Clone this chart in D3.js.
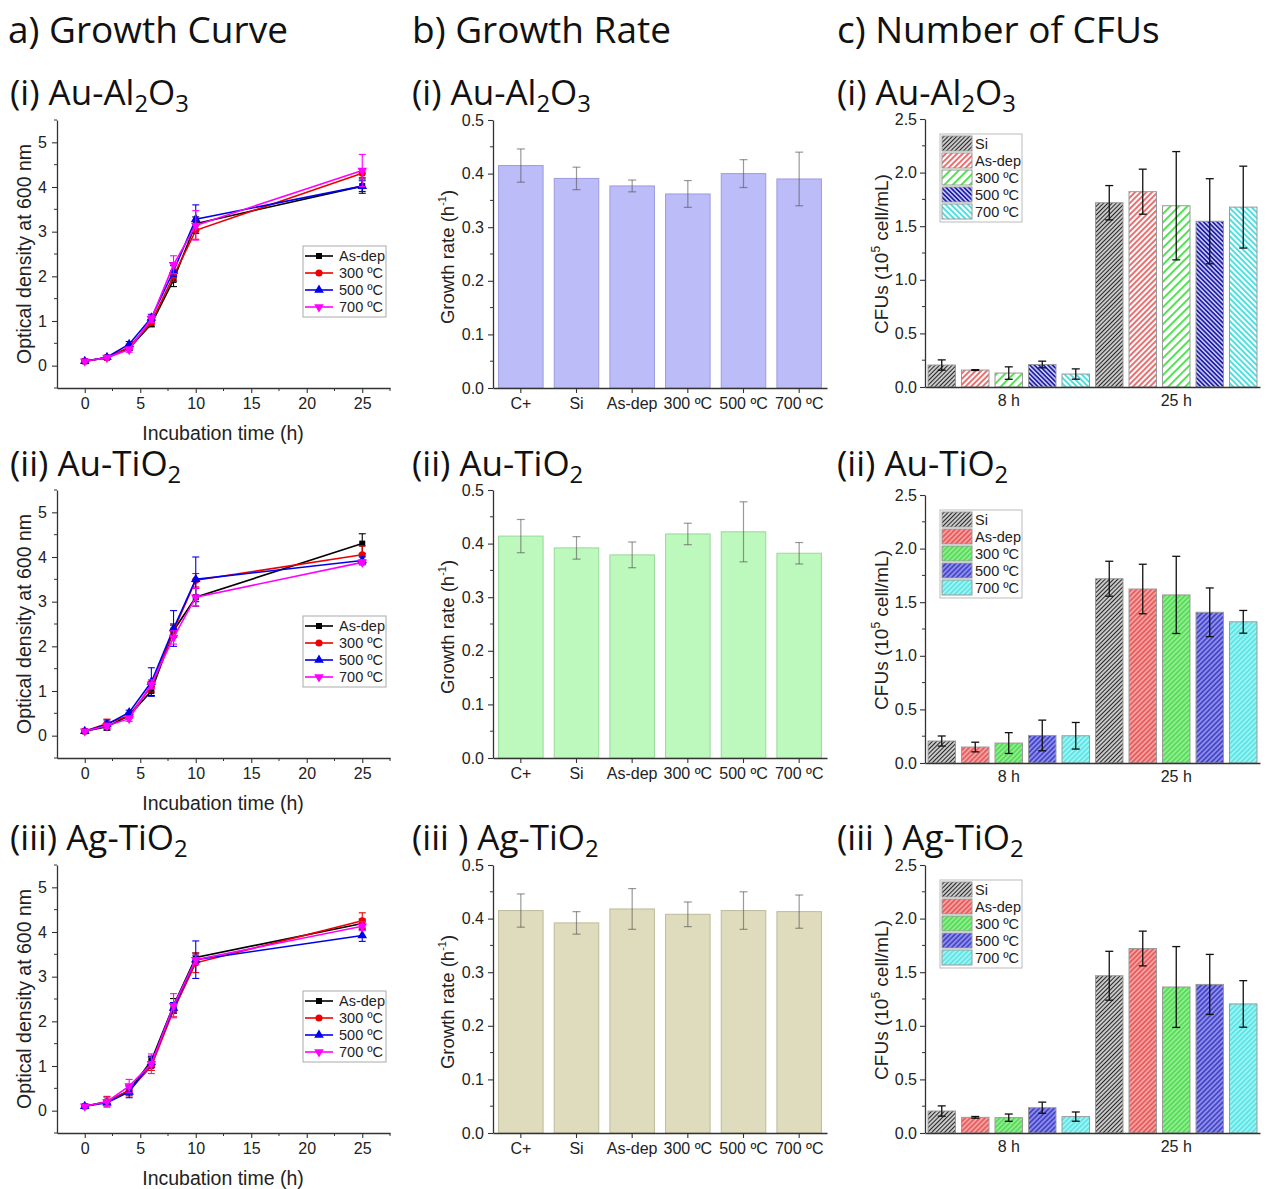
<!DOCTYPE html>
<html>
<head>
<meta charset="utf-8">
<script src="https://cdn.jsdelivr.net/npm/d3@7"></script>
<style>
  body { margin: 0; background: #fff; }
  text { font-family: "Liberation Sans", Arial, sans-serif; fill: #222; }
  .title { font-family: "Open Sans", sans-serif; fill: #111; }
</style>
</head>
<body>
<svg id="fig" width="1266" height="1189"></svg>
<script>
// ---- data ----
var times = [0, 2, 4, 6, 8, 10, 25];
var curveNames = ["As-dep", "300 ºC", "500 ºC", "700 ºC"];

// optical density, one row per series (As-dep, 300, 500, 700)
var odAuAl2O3 = [
  [0.10, 0.18, 0.39, 0.93, 1.92, 3.18, 4.02],
  [0.10, 0.18, 0.42, 0.97, 2.01, 3.03, 4.31],
  [0.10, 0.19, 0.48, 1.07, 2.12, 3.28, 4.02],
  [0.10, 0.18, 0.36, 1.05, 2.26, 3.14, 4.37]];
var odErrAuAl2O3 = [
  [0.02, 0.03, 0.05, 0.06, 0.15, 0.15, 0.16],
  [0.02, 0.03, 0.06, 0.06, 0.12, 0.20, 0.10],
  [0.02, 0.03, 0.06, 0.08, 0.12, 0.32, 0.12],
  [0.02, 0.03, 0.06, 0.08, 0.20, 0.33, 0.36]];

var odAuTiO2 = [
  [0.10, 0.20, 0.45, 1.00, 2.35, 3.10, 4.30],
  [0.10, 0.27, 0.45, 1.10, 2.35, 3.48, 4.05],
  [0.10, 0.25, 0.52, 1.20, 2.40, 3.50, 3.92],
  [0.10, 0.22, 0.38, 1.15, 2.20, 3.10, 3.88]];
var odErrAuTiO2 = [
  [0.02, 0.08, 0.05, 0.10, 0.15, 0.20, 0.22],
  [0.02, 0.10, 0.06, 0.12, 0.12, 0.15, 0.20],
  [0.02, 0.10, 0.05, 0.32, 0.40, 0.50, 0.08],
  [0.02, 0.06, 0.06, 0.10, 0.15, 0.20, 0.06]];

var odAgTiO2 = [
  [0.10, 0.20, 0.45, 1.12, 2.36, 3.43, 4.19],
  [0.10, 0.20, 0.45, 1.00, 2.25, 3.31, 4.25],
  [0.10, 0.18, 0.42, 1.08, 2.30, 3.38, 3.92],
  [0.10, 0.20, 0.55, 1.05, 2.35, 3.38, 4.13]];
var odErrAgTiO2 = [
  [0.02, 0.05, 0.10, 0.10, 0.15, 0.10, 0.10],
  [0.02, 0.12, 0.12, 0.10, 0.15, 0.22, 0.18],
  [0.02, 0.05, 0.13, 0.12, 0.12, 0.42, 0.13],
  [0.02, 0.10, 0.15, 0.22, 0.27, 0.10, 0.10]];

// growth rate (h^-1)
var rateCats = ["C+", "Si", "As-dep", "300 ºC", "500 ºC", "700 ºC"];
var rateAuAl2O3 = [0.415, 0.391, 0.377, 0.362, 0.400, 0.390];
var rateErrAuAl2O3 = [0.031, 0.021, 0.011, 0.025, 0.026, 0.050];
var rateAuTiO2 = [0.414, 0.392, 0.379, 0.418, 0.422, 0.382];
var rateErrAuTiO2 = [0.031, 0.021, 0.024, 0.020, 0.056, 0.020];
var rateAgTiO2 = [0.415, 0.392, 0.418, 0.408, 0.415, 0.413];
var rateErrAgTiO2 = [0.031, 0.021, 0.038, 0.023, 0.035, 0.031];

// CFUs (10^5 cell/mL), one row per time group
var cfuGroups = ["8 h", "25 h"];
var cfuNames = ["Si", "As-dep", "300 ºC", "500 ºC", "700 ºC"];
var cfuAuAl2O3 = [[0.205, 0.158, 0.130, 0.210, 0.121], [1.719, 1.822, 1.691, 1.546, 1.678]];
var cfuErrAuAl2O3 = [[0.048, 0.004, 0.058, 0.031, 0.048], [0.160, 0.210, 0.505, 0.397, 0.382]];
var cfuAuTiO2 = [[0.205, 0.149, 0.186, 0.257, 0.254], [1.719, 1.623, 1.568, 1.406, 1.317]];
var cfuErrAuTiO2 = [[0.047, 0.045, 0.097, 0.143, 0.124], [0.163, 0.231, 0.360, 0.227, 0.106]];
var cfuAgTiO2 = [[0.205, 0.146, 0.143, 0.236, 0.153], [1.467, 1.721, 1.362, 1.386, 1.204]];
var cfuErrAgTiO2 = [[0.048, 0.008, 0.034, 0.052, 0.043], [0.228, 0.162, 0.377, 0.280, 0.217]];

// ---- styling ----
var curveColors = ["#000000", "#ee0000", "#0000ee", "#ff00ff"];
var rateFill = ["#bcbcf8", "#bdf8bd", "#dfdcbd"];
var rateStroke = ["#9c9ce0", "#99d899", "#bdbb9c"];

var svg = d3.select("#fig");
var defs = svg.append("defs");

// hatch patterns: [background, line colour, spacing, angle, line width]
var hatchRow1 = [
  ["#ffffff", "#262626", 3, 45, 1.5],
  ["#ffffff", "#e03333", 4, 45, 1.4],
  ["#ffffff", "#33dd33", 6, 45, 1.7],
  ["#c4c4f4", "#1e1ea6", 3.2, -45, 1.6],
  ["#ffffff", "#22d8d8", 4, -45, 1.6]];
var hatchRow2 = [
  ["#ffffff", "#262626", 3, 45, 1.5],
  ["#ea5c5c", "#f8c4c4", 3.5, 45, 1.2],
  ["#55dd55", "#b0f4b0", 3.5, 45, 1.2],
  ["#4646cc", "#b0b0f2", 3.5, 45, 1.2],
  ["#5ae6e6", "#c0f8f8", 3.5, 45, 1.2]];

function makePatterns(id, spec) {
  spec.forEach(function (s, i) {
    var p = defs.append("pattern")
      .attr("id", id + i)
      .attr("patternUnits", "userSpaceOnUse")
      .attr("width", s[2]).attr("height", 10)
      .attr("patternTransform", "rotate(" + s[3] + ")");
    p.append("rect").attr("width", s[2]).attr("height", 10).attr("fill", s[0]);
    p.append("line").attr("x1", s[2] / 2).attr("x2", s[2] / 2)
      .attr("y1", 0).attr("y2", 10)
      .attr("stroke", s[1]).attr("stroke-width", s[4]);
  });
}
makePatterns("h0_", hatchRow1);
makePatterns("h1_", hatchRow2);
makePatterns("h2_", hatchRow2);

// ---- titles ----
function title(x, y, parts, size) {
  var t = svg.append("text").attr("class", "title").attr("x", x).attr("y", y)
    .style("font-size", size + "px");
  parts.forEach(function (p) {
    if (p.sub) {
      t.append("tspan").text(p.t).attr("dy", 7).style("font-size", (size * 0.68) + "px");
    } else {
      t.append("tspan").text(p.t).attr("dy", p.back ? -7 : 0);
    }
  });
}
title(8, 43, [{ t: "a) Growth Curve" }], 37);
title(412, 43, [{ t: "b) Growth Rate" }], 37);
title(837, 43, [{ t: "c) Number of CFUs" }], 37);

var rowNames = [
  [{ t: "Au-Al" }, { t: "2", sub: true }, { t: "O", back: true }, { t: "3", sub: true }],
  [{ t: "Au-TiO" }, { t: "2", sub: true }],
  [{ t: "Ag-TiO" }, { t: "2", sub: true }]];
var rowPrefix = [["(i) ", "(i) ", "(i) "], ["(ii) ", "(ii) ", "(ii) "], ["(iii) ", "(iii ) ", "(iii ) "]];
var titleBase = [105, 476, 850];
var colX = [10, 412, 837];
[0, 1, 2].forEach(function (r) {
  [0, 1, 2].forEach(function (c) {
    var parts = [{ t: rowPrefix[r][c] + rowNames[r][0].t }].concat(rowNames[r].slice(1));
    title(colX[c], titleBase[r], parts, 35);
  });
});

// ---- helpers ----
function styleAxis(g) {
  g.selectAll("path.domain").attr("stroke", "#333").attr("stroke-width", 1.3);
  g.selectAll(".tick line").attr("stroke", "#333").attr("stroke-width", 1.1);
  g.selectAll(".tick text").style("font-size", "16px")
    .style("font-family", '"Liberation Sans", Arial, sans-serif').attr("fill", "#222");
}
function minorTicks(g, scale, values, orient, len) {
  g.selectAll(null).data(values).enter().append("line")
    .attr("stroke", "#333").attr("stroke-width", 1)
    .each(function (v) {
      var s = d3.select(this);
      if (orient === "x") s.attr("x1", scale(v)).attr("x2", scale(v)).attr("y1", 0).attr("y2", len);
      else s.attr("y1", scale(v)).attr("y2", scale(v)).attr("x1", 0).attr("x2", -len);
    });
}

// ---- a) growth curves ----
function drawCurve(top, od, err) {
  var x = d3.scaleLinear().domain([-2.5, 27.5]).range([57, 390]);
  var y = d3.scaleLinear().domain([-0.5, 5.5]).range([top + 268, top]);
  var g = svg.append("g");

  var xa = g.append("g").attr("transform", "translate(0," + (top + 268) + ")")
    .call(d3.axisBottom(x).tickValues([0, 5, 10, 15, 20, 25]).tickFormat(d3.format("d"))
      .tickSize(5).tickSizeOuter(0).tickPadding(5));
  minorTicks(xa, x, [2.5, 7.5, 12.5, 17.5, 22.5, 27.5], "x", 3);
  styleAxis(xa);
  var ya = g.append("g").attr("transform", "translate(57,0)")
    .call(d3.axisLeft(y).tickValues([0, 1, 2, 3, 4, 5]).tickFormat(d3.format("d"))
      .tickSize(5).tickSizeOuter(0).tickPadding(5));
  minorTicks(ya, y, [-0.5, 0.5, 1.5, 2.5, 3.5, 4.5, 5.5], "y", 3);
  styleAxis(ya);

  g.append("text").attr("x", 223).attr("y", top + 320).attr("text-anchor", "middle")
    .style("font-size", "19.5px").text("Incubation time (h)");
  g.append("text").attr("transform", "translate(31," + (top + 134) + ") rotate(-90)")
    .attr("text-anchor", "middle").style("font-size", "19.5px").text("Optical density at 600 nm");

  var line = d3.line().x(function (d) { return x(d[0]); }).y(function (d) { return y(d[1]); });
  var sym = [d3.symbol().type(d3.symbolSquare).size(36),
    d3.symbol().type(d3.symbolCircle).size(40),
    d3.symbol().type(d3.symbolTriangle).size(40),
    d3.symbol().type(d3.symbolTriangle).size(40)];

  od.forEach(function (vals, k) {
    var pts = times.map(function (t, i) { return [t, vals[i], err[k][i]]; });
    var s = g.append("g");
    s.selectAll("line.eb").data(pts).enter().append("line")
      .attr("x1", function (d) { return x(d[0]); }).attr("x2", function (d) { return x(d[0]); })
      .attr("y1", function (d) { return y(d[1] - d[2]); }).attr("y2", function (d) { return y(d[1] + d[2]); })
      .attr("stroke", curveColors[k]).attr("stroke-width", 1.1);
    [1, -1].forEach(function (sg) {
      s.selectAll(null).data(pts).enter().append("line")
        .attr("x1", function (d) { return x(d[0]) - 3.5; }).attr("x2", function (d) { return x(d[0]) + 3.5; })
        .attr("y1", function (d) { return y(d[1] + sg * d[2]); }).attr("y2", function (d) { return y(d[1] + sg * d[2]); })
        .attr("stroke", curveColors[k]).attr("stroke-width", 1.1);
    });
    s.append("path").datum(pts).attr("d", line).attr("fill", "none")
      .attr("stroke", curveColors[k]).attr("stroke-width", 1.6);
    s.selectAll("path.m").data(pts).enter().append("path").attr("class", "m")
      .attr("d", sym[k])
      .attr("transform", function (d) {
        return "translate(" + x(d[0]) + "," + y(d[1]) + ")" + (k === 3 ? " rotate(180)" : "");
      })
      .attr("fill", curveColors[k]);
  });

  // legend
  var lg = g.append("g").attr("transform", "translate(303," + (top + 126) + ")");
  lg.append("rect").attr("width", 83).attr("height", 71).attr("fill", "#fff")
    .attr("stroke", "#aaa").attr("stroke-width", 1);
  curveNames.forEach(function (n, k) {
    var cy = 10 + k * 17;
    lg.append("line").attr("x1", 2).attr("x2", 30).attr("y1", cy).attr("y2", cy)
      .attr("stroke", curveColors[k]).attr("stroke-width", 1.6);
    lg.append("path").attr("d", sym[k])
      .attr("transform", "translate(16," + cy + ")" + (k === 3 ? " rotate(180)" : ""))
      .attr("fill", curveColors[k]);
    lg.append("text").attr("x", 36).attr("y", cy + 5).style("font-size", "14.5px").text(n);
  });
}

// ---- b) growth rate ----
function drawRate(top, vals, err, r) {
  var x = d3.scaleBand().domain(rateCats).range([493, 827]).paddingInner(0.2).paddingOuter(0.1);
  var y = d3.scaleLinear().domain([0, 0.5]).range([top + 268, top]);
  var g = svg.append("g");

  g.selectAll("rect").data(vals).enter().append("rect")
    .attr("x", function (d, i) { return x(rateCats[i]); })
    .attr("width", x.bandwidth())
    .attr("y", function (d) { return y(d); })
    .attr("height", function (d) { return y(0) - y(d); })
    .attr("fill", rateFill[r]).attr("stroke", rateStroke[r]).attr("stroke-width", 1);

  var eb = g.append("g").attr("stroke", "#555").attr("stroke-opacity", 0.6).attr("stroke-width", 1.2);
  vals.forEach(function (v, i) {
    var cx = x(rateCats[i]) + x.bandwidth() / 2;
    eb.append("line").attr("x1", cx).attr("x2", cx).attr("y1", y(v - err[i])).attr("y2", y(v + err[i]));
    [v - err[i], v + err[i]].forEach(function (e) {
      eb.append("line").attr("x1", cx - 4).attr("x2", cx + 4).attr("y1", y(e)).attr("y2", y(e));
    });
  });

  var xa = g.append("g").attr("transform", "translate(0," + (top + 268) + ")")
    .call(d3.axisBottom(x).tickSize(5).tickSizeOuter(0).tickPadding(5));
  styleAxis(xa);
  var ya = g.append("g").attr("transform", "translate(493,0)")
    .call(d3.axisLeft(y).tickValues([0, 0.1, 0.2, 0.3, 0.4, 0.5]).tickFormat(d3.format(".1f"))
      .tickSize(5).tickSizeOuter(0).tickPadding(4));
  minorTicks(ya, y, [0.05, 0.15, 0.25, 0.35, 0.45], "y", 3);
  styleAxis(ya);

  var lab = g.append("text").attr("transform", "translate(454," + (top + 137) + ") rotate(-90)")
    .attr("text-anchor", "middle").style("font-size", "18.5px");
  lab.append("tspan").text("Growth rate (h");
  lab.append("tspan").text("-1").attr("dy", -8).style("font-size", "11px");
  lab.append("tspan").text(")").attr("dy", 8);
}

// ---- c) CFUs ----
function drawCfu(top, vals, err, r) {
  var x0 = d3.scaleBand().domain(cfuGroups).range([925, 1260]);
  var x1 = d3.scaleBand().domain(cfuNames).range([0, x0.bandwidth()]).paddingInner(0.18).paddingOuter(0.09);
  var y = d3.scaleLinear().domain([0, 2.5]).range([top + 268, top]);
  var g = svg.append("g");

  cfuGroups.forEach(function (grp, gi) {
    var gg = g.append("g").attr("transform", "translate(" + x0(grp) + ",0)");
    gg.selectAll("rect").data(vals[gi]).enter().append("rect")
      .attr("x", function (d, i) { return x1(cfuNames[i]); })
      .attr("width", x1.bandwidth())
      .attr("y", function (d) { return y(d); })
      .attr("height", function (d) { return y(0) - y(d); })
      .attr("fill", function (d, i) { return "url(#h" + r + "_" + i + ")"; })
      .attr("stroke", "#9a9a9a").attr("stroke-width", 1);
    var eb = gg.append("g").attr("stroke", "#111").attr("stroke-width", 1.3);
    vals[gi].forEach(function (v, i) {
      var cx = x1(cfuNames[i]) + x1.bandwidth() / 2;
      var e = err[gi][i];
      eb.append("line").attr("x1", cx).attr("x2", cx).attr("y1", y(v - e)).attr("y2", y(v + e));
      [v - e, v + e].forEach(function (q) {
        eb.append("line").attr("x1", cx - 4).attr("x2", cx + 4).attr("y1", y(q)).attr("y2", y(q));
      });
    });
  });

  var xa = g.append("g").attr("transform", "translate(0," + (top + 268) + ")")
    .call(d3.axisBottom(x0).tickSize(0).tickSizeOuter(0).tickPadding(8));
  styleAxis(xa);
  var ya = g.append("g").attr("transform", "translate(925,0)")
    .call(d3.axisLeft(y).tickValues([0, 0.5, 1, 1.5, 2, 2.5]).tickFormat(d3.format(".1f"))
      .tickSize(5).tickSizeOuter(0).tickPadding(3));
  minorTicks(ya, y, [0.25, 0.75, 1.25, 1.75, 2.25], "y", 3);
  styleAxis(ya);

  var lab = g.append("text").attr("transform", "translate(888," + (top + 135) + ") rotate(-90)")
    .attr("text-anchor", "middle").style("font-size", "19px");
  lab.append("tspan").text("CFUs (10");
  lab.append("tspan").text("5").attr("dy", -8).style("font-size", "12px");
  lab.append("tspan").text(" cell/mL)").attr("dy", 8);

  // legend
  var lg = g.append("g").attr("transform", "translate(940," + (top + 15) + ")");
  lg.append("rect").attr("width", 82).attr("height", 88).attr("fill", "#fff")
    .attr("stroke", "#bbb").attr("stroke-width", 1);
  cfuNames.forEach(function (n, i) {
    var yy = 2 + i * 17;
    lg.append("rect").attr("x", 2).attr("y", yy).attr("width", 30).attr("height", 15)
      .attr("fill", "url(#h" + r + "_" + i + ")").attr("stroke", "#9a9a9a").attr("stroke-width", 1);
    lg.append("text").attr("x", 35).attr("y", yy + 12.5).style("font-size", "14.5px").text(n);
  });
}

drawCurve(120, odAuAl2O3, odErrAuAl2O3);
drawCurve(490, odAuTiO2, odErrAuTiO2);
drawCurve(865, odAgTiO2, odErrAgTiO2);

drawRate(120, rateAuAl2O3, rateErrAuAl2O3, 0);
drawRate(490, rateAuTiO2, rateErrAuTiO2, 1);
drawRate(865, rateAgTiO2, rateErrAgTiO2, 2);

drawCfu(119, cfuAuAl2O3, cfuErrAuAl2O3, 0);
drawCfu(495, cfuAuTiO2, cfuErrAuTiO2, 1);
drawCfu(865, cfuAgTiO2, cfuErrAgTiO2, 2);
</script>
</body>
</html>
